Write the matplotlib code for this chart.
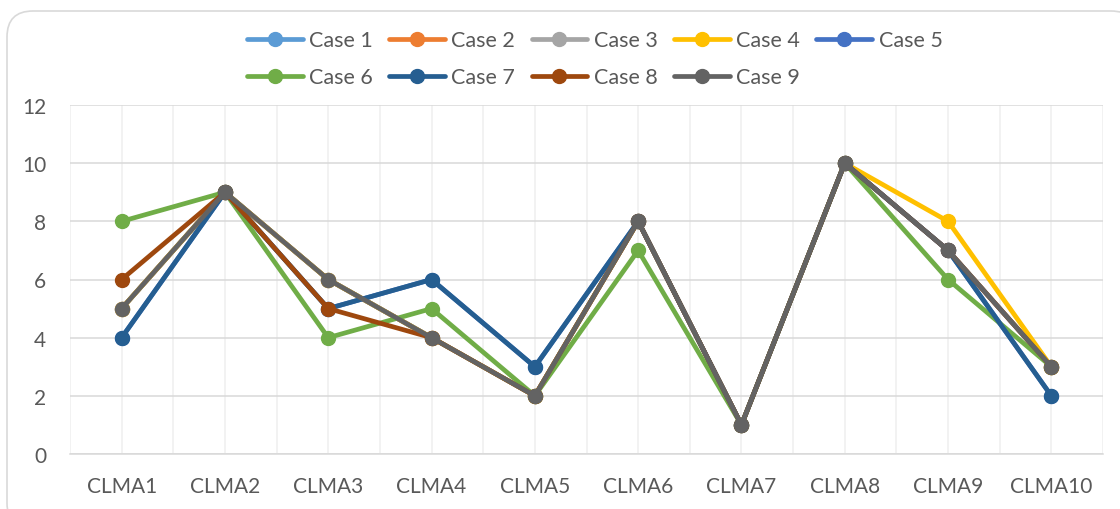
import matplotlib
matplotlib.use("Agg")
import matplotlib.pyplot as plt
from matplotlib.patches import FancyBboxPatch
from matplotlib.ticker import MultipleLocator

plt.rcParams["font.family"] = ["Lato", "DejaVu Sans"]

categories = ["CLMA1", "CLMA2", "CLMA3", "CLMA4", "CLMA5",
              "CLMA6", "CLMA7", "CLMA8", "CLMA9", "CLMA10"]

case1 = [5, 9, 6, 4, 2, 8, 1, 10, 7, 3]
case2 = [5, 9, 6, 4, 2, 8, 1, 10, 7, 3]
case3 = [5, 9, 6, 4, 2, 8, 1, 10, 7, 3]
case4 = [5, 9, 6, 4, 2, 8, 1, 10, 8, 3]
case5 = [4, 9, 5, 6, 3, 8, 1, 10, 7, 2]
case6 = [8, 9, 4, 5, 2, 7, 1, 10, 6, 3]
case7 = [4, 9, 5, 6, 3, 8, 1, 10, 7, 2]
case8 = [6, 9, 5, 4, 2, 8, 1, 10, 7, 3]
case9 = [5, 9, 6, 4, 2, 8, 1, 10, 7, 3]

series = [case1, case2, case3, case4, case5, case6, case7, case8, case9]
labels = [f"Case {i}" for i in range(1, 10)]
colors = ["#5B9BD5", "#ED7D31", "#A5A5A5", "#FFC000", "#4472C4",
          "#70AD47", "#255E91", "#9E480E", "#636363"]
TXT = "#595959"

fig = plt.figure(figsize=(11.2, 5.1), dpi=100)
# rounded chart-area frame (pixel coords), running off the right/bottom edges
frame = FancyBboxPatch((7, -20), 1130, 518, boxstyle="round,pad=0,rounding_size=26",
                       transform=None, fc="white", ec="#D9D9D9", lw=1.2, zorder=-1)
fig.patches.append(frame)

ax = fig.add_axes([70 / 1120, 1 - 455 / 510, 1033 / 1120, 349 / 510])
ax.set_facecolor("none")

x = range(len(categories))
handles = []
for vals, lab, c in zip(series, labels, colors):
    h, = ax.plot(x, vals, "-o", color=c, lw=3.4, ms=10, mfc=c, mec=c,
                 label=lab, solid_capstyle="round", solid_joinstyle="round")
    handles.append(h)

ax.set_xlim(-0.5, len(categories) - 0.5)
ax.set_ylim(0, 12)
ax.yaxis.set_major_locator(MultipleLocator(2))
ax.set_xticks(list(x))
ax.set_xticklabels(categories)
ax.set_xticks([i - 0.5 for i in range(len(categories) + 1)], minor=True)
ax.grid(axis="x", which="both", color="#EFEFEF", lw=1.1)
ax.grid(axis="y", which="major", color="#D9D9D9", lw=1.1)
ax.set_axisbelow(True)
for s in ["top", "right", "left"]:
    ax.spines[s].set_visible(False)
ax.spines["bottom"].set_color("#D9D9D9")
ax.spines["bottom"].set_linewidth(1.1)
ax.tick_params(axis="both", which="both", length=0, colors=TXT, labelsize=15)
ax.tick_params(axis="x", pad=16)
ax.tick_params(axis="y", pad=17)

# row-major legend: 5 entries on top row, 4 below
order = [0, 5, 1, 6, 2, 7, 3, 8, 4]
leg = fig.legend([handles[i] for i in order], [labels[i] for i in order],
                 loc="center", bbox_to_anchor=(0.531, 0.883), ncol=5,
                 frameon=False, fontsize=15.5, handlelength=2.6,
                 handletextpad=0.3, columnspacing=0.75, labelspacing=0.8)
for t in leg.get_texts():
    t.set_color(TXT)

fig.savefig("out.png", dpi=100)
